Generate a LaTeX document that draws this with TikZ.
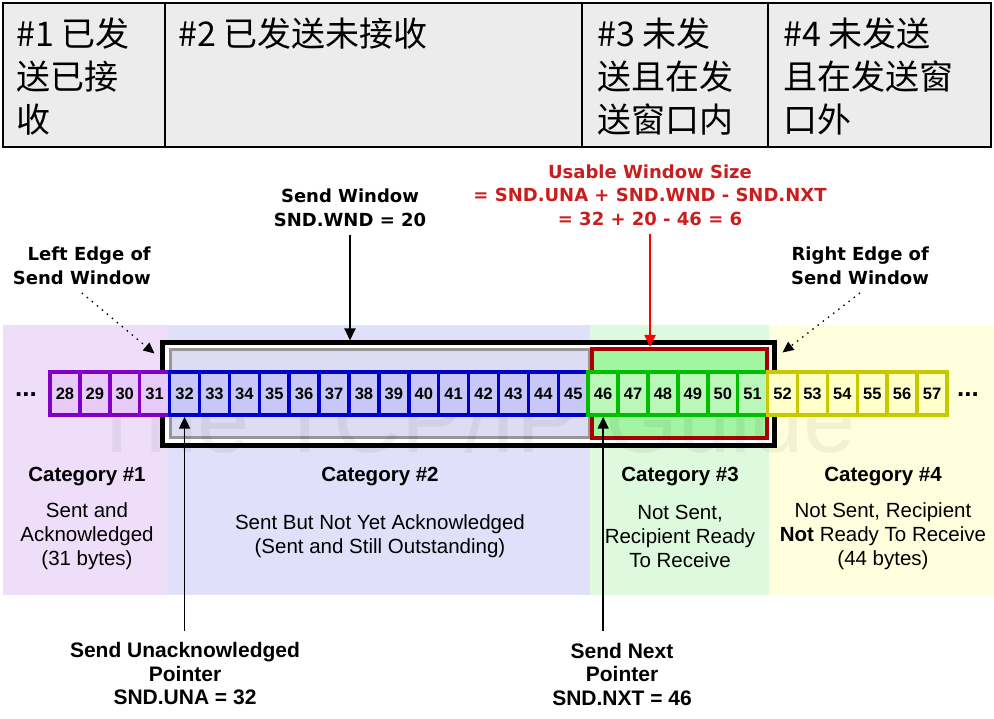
\documentclass[tikz,border=0pt]{standalone}
\usepackage{fontspec}
\setmainfont{Liberation Sans}
\newfontfamily\cjk{Noto Sans CJK SC}
\newfontfamily\lblfont{DejaVu Sans}
\definecolor{TableGray}{RGB}{236,236,236}
\definecolor{BandPurple}{RGB}{238,222,250}
\definecolor{BandBlue}{RGB}{224,224,250}
\definecolor{BandGreen}{RGB}{222,250,222}
\definecolor{BandYellow}{RGB}{255,255,222}
\definecolor{CatPurple}{RGB}{128,0,200}
\definecolor{CatBlue}{RGB}{0,0,204}
\definecolor{CatGreen}{RGB}{0,190,0}
\definecolor{CatYellow}{RGB}{200,200,0}
\definecolor{CellPurple}{RGB}{232,202,250}
\definecolor{CellBlue}{RGB}{200,200,248}
\definecolor{CellGreen}{RGB}{186,248,186}
\definecolor{CellYellow}{RGB}{255,255,198}
\definecolor{WinGray}{RGB}{150,150,150}
\definecolor{InnerLav}{RGB}{220,220,245}
\definecolor{WinRed}{RGB}{170,0,0}
\definecolor{UsableGreen}{RGB}{162,245,162}
\definecolor{TextRed}{RGB}{200,30,30}
\usetikzlibrary{positioning,arrows.meta,calc}

\begin{document}
\begin{tikzpicture}[x=1pt, y=-1pt,
      every node/.style={align=center, inner sep=0pt},
      tcell/.style={draw, line width=1.6pt, fill=TableGray, minimum height=144pt},
      ttext/.style={font=\cjk\fontsize{34}{43}\selectfont, align=left},
      byte/.style={draw, line width=3.5pt, minimum width=29.9pt, minimum height=43pt, font=\bfseries\fontsize{16.5}{16.5}\selectfont},
      toplbl/.style={font=\lblfont\bfseries\fontsize{18}{23.5}\selectfont},
      botlbl/.style={font=\bfseries\fontsize{21}{23.5}\selectfont},
      catlbl/.style={font=\bfseries\fontsize{20.5}{24}\selectfont},
      desc/.style={font=\fontsize{20.5}{24}\selectfont},
      arr/.style={-{Triangle[length=12pt,width=11pt]}, line width=1.8pt},
      dotarr/.style={-{Triangle[length=11pt,width=10pt]}, line width=1.3pt, dash pattern=on 1.5pt off 5pt}
  ]
    \useasboundingbox (0,0) rectangle (994,719);
    % table on top
    \node[tcell, minimum width=162pt] (t1) at (84,75) {};
    \node[tcell, minimum width=417pt] (t2) at (373.5,75) {};
    \node[tcell, minimum width=186pt] (t3) at (675,75) {};
    \node[tcell, minimum width=223pt] (t4) at (879.5,75) {};
    \node[ttext, below right=15pt and 14pt of t1.north west] (t1txt) {\#1 已发\\送已接\\收};
    \node[ttext, below right=15pt and 14pt of t2.north west] (t2txt) {\#2 已发送未接收};
    \node[ttext, below right=15pt and 16pt of t3.north west] (t3txt) {\#3 未发\\送且在发\\送窗口内};
    \node[ttext, below right=15pt and 16pt of t4.north west] (t4txt) {\#4 未发送\\且在发送窗\\口外};

    % category bands
    \fill[BandPurple] (3,325) rectangle (168,595);
    \fill[BandBlue] (168,325) rectangle (590,595);
    \fill[BandGreen] (590,325) rectangle (769,595);
    \fill[BandYellow] (769,325) rectangle (994,595);

    % windows
    \node[draw, line width=5pt, fill=white, minimum width=612pt, minimum height=102pt] (sendwin) at (468,394) {};
    \node[draw=WinGray, line width=3pt, fill=InnerLav, minimum width=419pt, minimum height=87pt] (sentwin) at (379.5,393.5) {};
    \node[draw=WinRed, line width=4pt, fill=UsableGreen, minimum width=175pt, minimum height=89pt] (usewin) at (679.5,393.5) {};
    \node[font=\fontsize{94}{94}\selectfont, text=black, opacity=0.05, text depth=0pt, anchor=base west] (mark) at (88,452) {The TCP/IP Guide};

    % bytes
    \foreach \n in {28,...,31}
      \node[byte, draw=CatPurple, fill=CellPurple] (b\n) at ({64.95+(\n-28)*29.9},393.5) {\n};
    \foreach \n in {32,...,45}
      \node[byte, draw=CatBlue, fill=CellBlue] (b\n) at ({64.95+(\n-28)*29.9},393.5) {\n};
    \foreach \n in {46,...,51}
      \node[byte, draw=CatGreen, fill=CellGreen] (b\n) at ({64.95+(\n-28)*29.9},393.5) {\n};
    \foreach \n in {52,...,57}
      \node[byte, draw=CatYellow, fill=CellYellow] (b\n) at ({64.95+(\n-28)*29.9},393.5) {\n};
    \node[font=\bfseries\fontsize{26}{26}\selectfont, anchor=base] (dotsl) at (26,397) {...};
    \node[font=\bfseries\fontsize{26}{26}\selectfont, anchor=base] (dotsr) at (968,397) {...};

    % labels above
    \node[toplbl] (wndlbl) at (350,208) {Send Window\\SND.WND = 20};
    \node[toplbl, text=TextRed] (usablbl) at (650,195) {Usable Window Size\\= SND.UNA + SND.WND - SND.NXT\\= 32 + 20 - 46 = 6};
    \node[toplbl, align=right, anchor=east] (leftlbl) at (151,266) {Left Edge of\\Send Window};
    \node[toplbl, align=right] (rightlbl) at (860,266) {Right Edge of\\Send Window};
    \draw[arr] ([yshift=-8pt]wndlbl.south) -- (wndlbl.south |- sendwin.north);
    \draw[arr, draw=red, fill=red] ([yshift=-8pt]usablbl.south) -- (usablbl.south |- usewin.north);
    \draw[dotarr] ([yshift=-8pt]leftlbl.south) -- ($(sendwin.north west)+(-5,13)$);
    \draw[dotarr] ([yshift=-8pt]rightlbl.south) -- ($(sendwin.north east)+(6,12)$);

    % categories
    \node[catlbl] (cat1) at (87,477) {Category \#1};
    \node[catlbl] (cat2) at (380,477) {Category \#2};
    \node[catlbl] (cat3) at (680,477) {Category \#3};
    \node[catlbl] (cat4) at (883,477) {Category \#4};
    \node[desc] (desc1) at (87,536) {Sent and\\Acknowledged\\(31 bytes)};
    \node[desc] (desc2) at (380,536) {Sent But Not Yet Acknowledged\\(Sent and Still Outstanding)};
    \node[desc] (desc3) at (680,536) {Not Sent,\\Recipient Ready\\To Receive};
    \node[desc] (desc4) at (883,536) {Not Sent, Recipient\\\textbf{Not} Ready To Receive\\(44 bytes)};

    % pointers below
    \node[botlbl] (unalbl) at (185,674) {Send Unacknowledged\\Pointer\\SND.UNA = 32};
    \node[botlbl] (nxtlbl) at (622,674) {Send Next\\Pointer\\SND.NXT = 46};
    \draw[arr] ([yshift=12pt]b32.south |- unalbl.north) -- (b32.south);
    \draw[arr] ([yshift=12pt]b46.south |- nxtlbl.north) -- (b46.south);
  \end{tikzpicture}
\end{document}
